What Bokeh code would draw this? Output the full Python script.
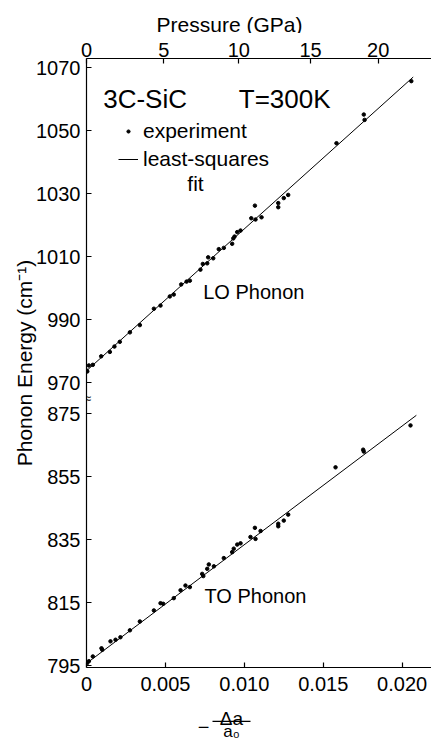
import numpy as np
from bokeh.plotting import figure
from bokeh.layouts import column
from bokeh.models import (Range1d, LinearAxis, FixedTicker, Label, Legend,
                          LegendItem, BoxAnnotation)
from bokeh.embed import file_html
from bokeh.resources import INLINE

# ---------------- data ----------------
lo_strain = [0.0000, 0.00005, 0.00015, 0.0004, 0.00093, 0.00148, 0.00177, 0.00211,
             0.00275, 0.00338, 0.00427, 0.00469, 0.00528, 0.00553, 0.0060, 0.00634,
             0.00655, 0.00722, 0.00737, 0.00765, 0.00771, 0.00803, 0.00838, 0.0087,
             0.00923, 0.0093, 0.00938, 0.00955, 0.00976, 0.01044, 0.01067, 0.01071,
             0.01109, 0.01215, 0.01215, 0.0125, 0.01278, 0.01584, 0.01757, 0.01762,
             0.02058]
lo_energy = [973.9, 973.6, 975.5, 975.7, 978.4, 979.8, 981.5, 983.0,
             986.0, 988.3, 993.5, 994.5, 997.4, 998.0, 1001.2, 1002.1,
             1002.4, 1005.9, 1007.7, 1007.9, 1009.8, 1009.5, 1012.4, 1012.8,
             1014.1, 1015.8, 1016.4, 1017.8, 1018.3, 1022.2, 1026.2, 1021.8,
             1022.5, 1027.0, 1025.7, 1028.6, 1029.6, 1046.0, 1055.1, 1053.4,
             1065.7]
to_strain = [0.00004, 0.00015, 0.0004, 0.00095, 0.0010, 0.00152, 0.00184, 0.00215,
             0.00275, 0.00338, 0.00427, 0.00469, 0.00486, 0.00553, 0.00596, 0.00627,
             0.00655, 0.00733, 0.0074, 0.00765, 0.00775, 0.00807, 0.0087, 0.00923,
             0.00933, 0.00955, 0.00976, 0.01039, 0.01067, 0.01071, 0.01103, 0.01215,
             0.01215, 0.0125, 0.01278, 0.01578, 0.01753, 0.01757, 0.02053]
to_energy = [795.9, 796.5, 798.0, 800.6, 800.1, 802.8, 803.3, 804.1,
             806.3, 809.1, 812.6, 814.9, 814.7, 816.5, 819.0, 820.5,
             820.0, 824.2, 823.5, 825.8, 827.2, 826.6, 829.2, 831.1,
             832.2, 833.5, 833.9, 835.9, 838.8, 835.3, 837.8, 840.1,
             839.3, 841.1, 843.0, 858.0, 863.6, 863.0, 871.3]
lo_fit_strain = [0.0, 0.0207]
lo_fit_energy = [973.8, 1067.0]
to_fit_strain = [0.0, 0.0209]
to_fit_energy = [795.8, 874.5]

strain_ticks = [0.0, 0.005, 0.010, 0.015, 0.020]
strain_tick_labels = ["0", "0.005", "0.010", "0.015", "0.020"]
pressure_tick_labels = ["0", "5", "10", "15", "20"]
pressure_tick_strain = [0.0, 0.0049, 0.00965, 0.0142, 0.01848]
to_ticks = [795, 815, 835, 855, 875]
lo_ticks = [970, 990, 1010, 1030, 1050, 1070]

# ---------------- layout ----------------
W = 431
TOP_H, MAIN_H, BOT_H = 33, 669, 36          # 33 + 669 + 36 = 738
FL, FR = 86, 431
FT, FB = 58, 667                            # frame edges in page pixels
X0, X1 = 0.0, 0.02186
TO0, TO1 = 794.5, 987.7
SHIFT = 85.18          # offset of the LO (upper) part of the broken axis
FONT = "Liberation Sans"


def dx(px):
    return X0 + (px - FL) / (FR - FL) * (X1 - X0)


def dy(py):
    return TO0 + (FB - py) / (FB - FT) * (TO1 - TO0)


def strip(h):
    # frame aligned with the main plot's frame horizontally; y=0 is the strip top
    f = figure(width=W, height=h, x_range=Range1d(X0, X1), y_range=Range1d(h, 0),
               title=None, output_backend="svg", toolbar_location=None,
               x_axis_location=None, y_axis_location=None,
               min_border=0, min_border_left=FL, min_border_right=W - FR,
               min_border_top=0, min_border_bottom=0, outline_line_color=None,
               background_fill_color="white", border_fill_color="white")
    f.grid.visible = False
    return f


p = figure(width=W, height=MAIN_H, x_range=Range1d(X0, X1), y_range=Range1d(TO0, TO1),
           title=None, output_backend="svg", toolbar_location=None,
           x_axis_location=None, y_axis_location=None,
           min_border_left=FL, min_border_right=W - FR,
           min_border_top=FT - TOP_H, min_border_bottom=TOP_H + MAIN_H - FB,
           outline_line_color=None, background_fill_color="white",
           border_fill_color="white")
p.extra_y_ranges = {"lo": Range1d(TO0 + SHIFT, TO1 + SHIFT)}
p.grid.visible = False


def style(ax, standoff):
    ax.axis_line_color = "black"
    ax.axis_line_width = 1.2
    ax.major_tick_line_color = "black"
    ax.major_tick_line_width = 1.2
    ax.major_tick_in = 5
    ax.major_tick_out = 0
    ax.minor_tick_line_color = None
    ax.major_label_text_font = FONT
    ax.major_label_text_font_size = "20px"
    ax.major_label_text_color = "black"
    ax.major_label_standoff = standoff


left_ticks = [float(t) for t in to_ticks] + [t - SHIFT for t in lo_ticks]
left_labels = [str(t) for t in to_ticks] + [str(t) for t in lo_ticks]
left = LinearAxis(ticker=FixedTicker(ticks=left_ticks),
                  major_label_overrides=dict(zip(left_ticks, left_labels)),
                  axis_label="Phonon Energy (cm\u207b\u00b9)")
style(left, 6)
left.axis_label_text_font = FONT
left.axis_label_text_font_size = "21px"
left.axis_label_text_font_style = "normal"
left.axis_label_text_color = "black"
left.axis_label_standoff = -3
p.add_layout(left, "left")

bottom = LinearAxis(ticker=FixedTicker(ticks=strain_ticks),
                    major_label_overrides=dict(zip(strain_ticks, strain_tick_labels)))
style(bottom, 9)
p.add_layout(bottom, "below")

top = LinearAxis(ticker=FixedTicker(ticks=pressure_tick_strain),
                 major_label_overrides=dict(zip(pressure_tick_strain, pressure_tick_labels)))
style(top, 2)
p.add_layout(top, "above")

# ---------------- glyphs ----------------
lo_line = p.line(lo_fit_strain, lo_fit_energy, y_range_name="lo",
                 line_color="black", line_width=1)
lo_pts = p.scatter(lo_strain, lo_energy, y_range_name="lo", size=3.5,
                   fill_color="black", line_color="black")
p.line(to_fit_strain, to_fit_energy, line_color="black", line_width=1)
p.scatter(to_strain, to_energy, size=3.5, fill_color="black", line_color="black")

legend = Legend(items=[LegendItem(label="experiment", renderers=[lo_pts]),
                       LegendItem(label="least-squares", renderers=[lo_line])],
                location=(32, 496), padding=0, margin=0, spacing=4,
                glyph_width=20, glyph_height=8, label_height=22,
                label_standoff=5, label_text_font=FONT,
                label_text_font_size="21px", label_text_color="black",
                background_fill_alpha=0, border_line_color=None)
p.add_layout(legend)


def lab(fig, text, x, y, size, align="left", baseline="alphabetic", y_offset=0):
    fig.add_layout(Label(x=x, y=y, text=text, text_font=FONT,
                         text_font_size=size, text_align=align,
                         text_baseline=baseline, text_color="black",
                         y_offset=y_offset))


lab(p, "fit", dx(195), dy(183), "21px", align="center")
lab(p, "3C-SiC", dx(102.7), dy(98.3), "26px")
lab(p, "T=300K", dx(238.3), dy(98.3), "26px")
lab(p, "LO Phonon", dx(202.7), dy(291.7), "20px")
lab(p, "TO Phonon", dx(204), dy(595), "20px")
lab(p, "\u2248", dx(87), dy(397), "14px", align="center", baseline="middle")

# strip above: top-axis title, anchored at the strip top (y=0) and offset in pixels
ptop = strip(TOP_H)
lab(ptop, "Pressure (GPa)", dx(229), 0, "21px", align="center", y_offset=-24)

# strip below: x-axis title  -(delta a / a0)
pbot = strip(BOT_H)
y0 = TOP_H + MAIN_H
lab(pbot, "\u2212", dx(203), 0, "20px", align="center", y_offset=-(726 - y0))
lab(pbot, "\u0394a", dx(231), 0, "19px", align="center", y_offset=-(717.5 - y0))
lab(pbot, "a\u2080", dx(231), 0, "17px", align="center", y_offset=-(730.5 - y0))
try:
    bar = BoxAnnotation(left=dx(212), right=dx(250), top=720.3 - y0, bottom=721.6 - y0,
                        top_units="canvas", bottom_units="canvas",
                        fill_color="black", fill_alpha=1, line_color=None)
except Exception:
    bar = BoxAnnotation(left=dx(212), right=dx(250), top=720.3 - y0, bottom=721.6 - y0,
                        fill_color="black", fill_alpha=1, line_color=None)
pbot.add_layout(bar)

layout = column(ptop, p, pbot, spacing=0)
open("out.html", "w").write(file_html(layout, INLINE))
